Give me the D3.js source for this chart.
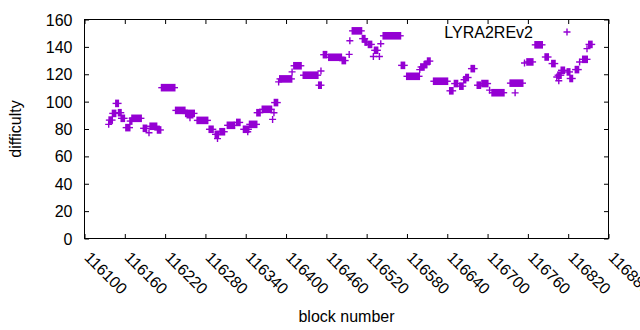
<!DOCTYPE html>
<html>
<head>
<meta charset="utf-8">
<script src="https://cdn.jsdelivr.net/npm/d3@7"></script>
<style>
  body { margin: 0; background: #fff; }
  text { font-family: "Liberation Sans", Arial, sans-serif; font-size: 16px; fill: #000; }
</style>
</head>
<body>
<div id="chart"></div>
<script>
// runs of consecutive blocks sharing one difficulty (each block is a "+" point)
const runStart = [116137,116142,116147,116151,116155,116162,116168,116171,116188,116198,116209,116215,116236,116251,116268,116286,116295,116302,116313,116327,116337,116346,116357,116365,116383,116391,116412,116426,116449,116456,116464,116484,116499,116514,116518,116523,116532,116545,116572,116580,116601,116606,116611,116620,116644,116651,116659,116665,116668,116676,116685,116692,116707,116734,116759,116771,116786,116796,116805,116810,116819,116823,116831,116842,116851];
const runEnd = [116141,116146,116150,116154,116159,116167,116170,116184,116192,116207,116213,116234,116249,116263,116283,116291,116299,116308,116323,116331,116344,116356,116361,116378,116387,116408,116422,116447,116452,116460,116482,116488,116512,116517,116520,116527,116536,116570,116576,116598,116605,116609,116614,116640,116648,116655,116663,116667,116671,116680,116689,116700,116724,116752,116767,116781,116790,116800,116809,116814,116822,116826,116835,116848,116855];
const runDiff = [86.5,91.4,98.7,91.9,87.8,81,85.8,87.8,80.5,82,79.3,110.2,93.6,91.4,86.3,79.8,76.1,78,82.7,84.8,79.8,83.4,91.9,94.4,99.3,116.6,126.2,119.3,112,134.3,132.4,130,151.7,146,143.5,141.8,137.5,148.1,126.5,118.5,125.3,127,129.6,114.9,107.9,113.2,111.3,116,117.6,124.1,112,113.2,106.5,113.5,129,141.5,132.6,127.8,119.3,122.9,121.7,116.9,123.4,130.9,141.8];

// single blocks standing apart
const loneBlock = [116136,116196,116257,116298,116343,116380,116382,116389,116409,116452,116494,116495,116530,116539,116541,116599,116703,116741,116755,116803,116806,116837,116848];
const loneDiff = [83.4,77.3,88.2,73,78,87,91.9,114.4,121.7,122.4,134.5,144.5,133,133,142.3,123.4,108.4,106.4,128.2,118,115.2,129,138.7];

const xTicks = [116100,116160,116220,116280,116340,116400,116460,116520,116580,116640,116700,116760,116820,116880];
const yTicks = [0,20,40,60,80,100,120,140,160];

const color = "#9400d3";
const width = 640, height = 330;
const margin = { top: 19.5, left: 84.5, right: 31.5, bottom: 91.5 };
const tick = 4.5;
const half = 3.5;   // half size of a "+" marker
const armW = 1.4;   // stroke of the marker arms

const x = d3.scaleLinear().domain([116100, 116880]).range([margin.left, width - margin.right]);
const y = d3.scaleLinear().domain([0, 160]).range([height - margin.bottom, margin.top]);

const svg = d3.select("#chart").append("svg").attr("width", width).attr("height", height);

// axes (ticks on all four sides, gnuplot style)
const xAxis = svg.append("g").attr("transform", `translate(0,${y(0)})`)
    .call(d3.axisBottom(x).tickValues(xTicks).tickFormat(d3.format("d")).tickSize(-tick).tickSizeOuter(0));
xAxis.selectAll("text")
    .attr("text-anchor", "start")
    .attr("x", 0).attr("y", 0).attr("dy", "0.35em")
    .attr("transform", "translate(2.5,16) rotate(45)");

svg.append("g").attr("transform", `translate(0,${y(160)})`)
    .call(d3.axisTop(x).tickValues(xTicks).tickFormat("").tickSize(-tick).tickSizeOuter(0));

svg.append("g").attr("transform", `translate(${x(116100)},0)`)
    .call(d3.axisLeft(y).tickValues(yTicks).tickSize(-tick).tickSizeOuter(0).tickPadding(12))
    .selectAll("text").attr("dy", "0.35em");

svg.append("g").attr("transform", `translate(${x(116880)},0)`)
    .call(d3.axisRight(y).tickValues(yTicks).tickFormat("").tickSize(-tick).tickSizeOuter(0));

svg.selectAll(".domain").remove();
svg.selectAll(".tick line").attr("stroke", "#000");
svg.selectAll(".tick text").style("font-size", "16px").attr("font-family", null);

// border
svg.append("rect")
    .attr("x", x(116100)).attr("y", y(160))
    .attr("width", x(116880) - x(116100)).attr("height", y(0) - y(160))
    .attr("fill", "none").attr("stroke", "#000").attr("stroke-width", 1);

// data
const runs = runStart.map((s, i) => ({ s: s, e: runEnd[i], v: runDiff[i] }));
const lone = loneBlock.map((b, i) => ({ b: b, v: loneDiff[i] }));

const plot = svg.append("g");

// dense "+" markers merge into a block: vertical arms fill, horizontal arms stick out
plot.selectAll("rect.run")
    .data(runs)
    .join("rect")
    .attr("class", "run")
    .attr("x", d => x(d.s) - 1)
    .attr("width", d => x(d.e) - x(d.s) + 2)
    .attr("y", d => y(d.v) - half - 0.3)
    .attr("height", half * 2 + 0.6)
    .attr("fill", color);

plot.selectAll("path.runArm")
    .data(runs)
    .join("path")
    .attr("class", "runArm")
    .attr("d", d => `M${x(d.s) - half},${y(d.v)}H${x(d.e) + half}`)
    .attr("stroke", color).attr("stroke-width", armW).attr("fill", "none");

const plus = (px, py) => `M${px - half},${py}H${px + half}M${px},${py - half}V${py + half}`;

plot.selectAll("path.lone")
    .data(lone)
    .join("path")
    .attr("class", "lone")
    .attr("d", d => plus(x(d.b), y(d.v)))
    .attr("stroke", color).attr("stroke-width", armW).attr("fill", "none");

// key
svg.append("text").attr("x", 533).attr("y", 32).attr("dy", "0.35em")
    .attr("text-anchor", "end").text("LYRA2REv2");
svg.append("path").attr("d", plus(567, 32))
    .attr("stroke", color).attr("stroke-width", armW).attr("fill", "none");

// axis titles
svg.append("text")
    .attr("transform", `translate(21,${(y(0) + y(160)) / 2}) rotate(-90)`)
    .attr("text-anchor", "middle").text("difficulty");
svg.append("text")
    .attr("x", (x(116100) + x(116880)) / 2).attr("y", 322)
    .attr("text-anchor", "middle").text("block number");
</script>
</body>
</html>
